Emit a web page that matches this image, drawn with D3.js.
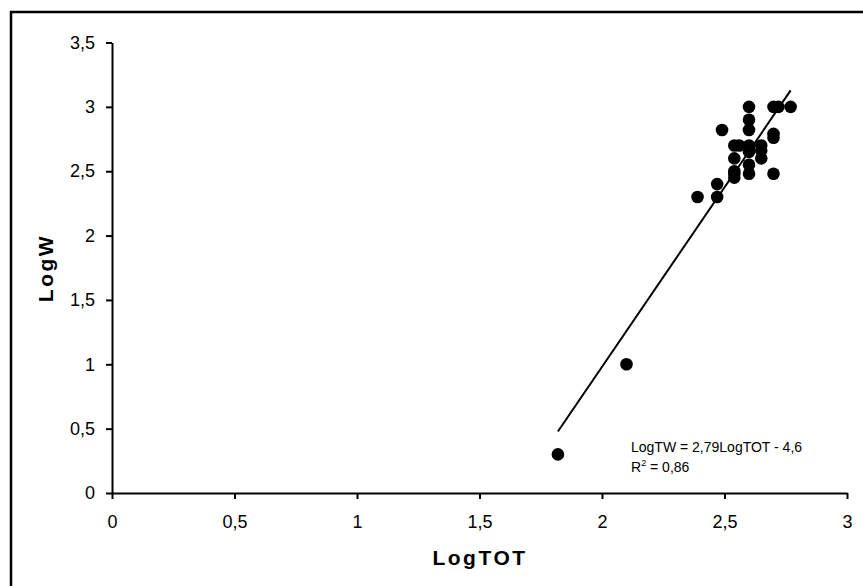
<!DOCTYPE html>
<html>
<head>
<meta charset="utf-8">
<script src="https://cdn.jsdelivr.net/npm/d3@7"></script>
<style>
  body { margin: 0; background: #fff; }
  svg { display: block; font-family: "Liberation Sans", Arial, sans-serif; }
</style>
</head>
<body>
<div id="chart"></div>
<script>
// LogTOT / LogW pairs
var logTot = [1.82, 2.1, 2.39, 2.47, 2.47, 2.49, 2.54, 2.54, 2.54, 2.54, 2.54, 2.56,
              2.6, 2.6, 2.6, 2.6, 2.6, 2.6, 2.6, 2.6, 2.65, 2.65, 2.65,
              2.7, 2.7, 2.7, 2.7, 2.72, 2.77];
var logW = [0.3, 1.0, 2.3, 2.3, 2.4, 2.82, 2.7, 2.6, 2.5, 2.45, 2.48, 2.7,
            3.0, 2.9, 2.82, 2.7, 2.67, 2.55, 2.48, 2.65, 2.7, 2.66, 2.6,
            3.0, 2.79, 2.76, 2.48, 3.0, 3.0];
var slope = 2.79, intercept = -4.6;
var xTicks = [0, 0.5, 1, 1.5, 2, 2.5, 3];
var yTicks = [0, 0.5, 1, 1.5, 2, 2.5, 3, 3.5];

var width = 863, height = 586;
var fmt = function (d) { return String(d).replace(".", ","); };

var svg = d3.select("#chart").append("svg")
    .attr("width", width)
    .attr("height", height);

// outer frame (only top and left edges fall inside the picture)
svg.append("rect")
    .attr("x", 11).attr("y", 12)
    .attr("width", width + 100).attr("height", height + 100)
    .attr("fill", "none")
    .attr("stroke", "black")
    .attr("stroke-width", 2.5);

var x = d3.scaleLinear().domain([0, 3]).range([112, 847]);
var y = d3.scaleLinear().domain([0, 3.5]).range([493, 42.5]);

var xAxis = svg.append("g")
    .attr("transform", "translate(0," + y(0) + ")")
    .call(d3.axisBottom(x).tickValues(xTicks).tickFormat(fmt).tickSize(6).tickSizeOuter(0).tickPadding(16));
var yAxis = svg.append("g")
    .attr("transform", "translate(" + x(0) + ",0)")
    .call(d3.axisLeft(y).tickValues(yTicks).tickFormat(fmt).tickSize(6).tickSizeOuter(0).tickPadding(11));

[xAxis, yAxis].forEach(function (g) {
    g.select(".domain").attr("stroke-width", 2);
    g.selectAll(".tick line").attr("stroke-width", 2);
    g.selectAll(".tick text")
        .attr("font-size", "18px")
        .attr("font-family", "Liberation Sans, Arial, sans-serif")
        .attr("fill", "black");
});

// axis titles
svg.append("text")
    .attr("x", 480).attr("y", 565)
    .attr("text-anchor", "middle")
    .attr("font-size", "21px")
    .attr("font-weight", "bold")
    .attr("letter-spacing", "2.5px")
    .text("LogTOT");

svg.append("text")
    .attr("transform", "translate(52.5,268) rotate(-90)")
    .attr("text-anchor", "middle")
    .attr("font-size", "21px")
    .attr("font-weight", "bold")
    .attr("letter-spacing", "2.5px")
    .text("LogW");

// trend line over the data range
var xMin = d3.min(logTot), xMax = d3.max(logTot);
svg.append("line")
    .attr("x1", x(xMin)).attr("y1", y(slope * xMin + intercept))
    .attr("x2", x(xMax)).attr("y2", y(slope * xMax + intercept))
    .attr("stroke", "black")
    .attr("stroke-width", 2);

svg.selectAll("circle")
    .data(logTot)
    .enter()
    .append("circle")
    .attr("cx", function (d) { return x(d); })
    .attr("cy", function (d, i) { return y(logW[i]); })
    .attr("r", 6.3)
    .attr("fill", "black");

// equation
svg.append("text")
    .attr("x", 631).attr("y", 451.5)
    .attr("font-size", "14px")
    .text("LogTW = 2,79LogTOT - 4,6");

var r2 = svg.append("text")
    .attr("x", 631).attr("y", 472)
    .attr("font-size", "14px");
r2.append("tspan").text("R");
r2.append("tspan").attr("font-size", "9px").attr("dy", "-6").text("2");
r2.append("tspan").attr("dy", "6").text(" = 0,86");
</script>
</body>
</html>
